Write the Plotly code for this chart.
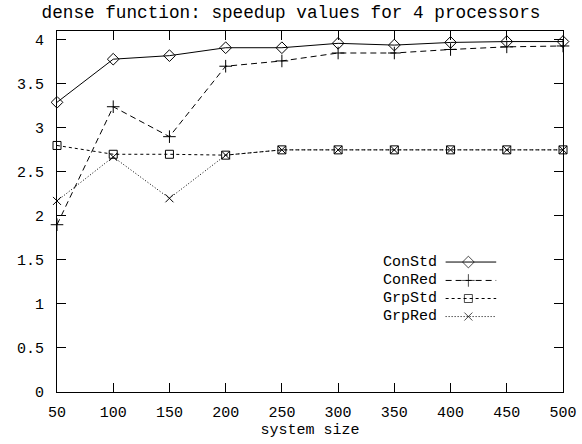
import plotly.graph_objects as go

system_size = [50, 100, 150, 200, 250, 300, 350, 400, 450, 500]
con_std = [3.29, 3.78, 3.82, 3.91, 3.91, 3.96, 3.94, 3.97, 3.98, 3.98]
con_red = [1.90, 3.24, 2.90, 3.70, 3.76, 3.85, 3.85, 3.89, 3.92, 3.93]
grp_std = [2.80, 2.70, 2.70, 2.69, 2.75, 2.75, 2.75, 2.75, 2.75, 2.75]
grp_red = [2.17, 2.67, 2.20, 2.69, 2.75, 2.75, 2.75, 2.75, 2.75, 2.75]
series_names = ["ConStd", "ConRed", "GrpStd", "GrpRed"]
y_ticks = [0, 0.5, 1, 1.5, 2, 2.5, 3, 3.5, 4]
y_tick_text = ["0", "0.5", "1", "1.5", "2", "2.5", "3", "3.5", "4"]

FONT = "Liberation Mono, Courier New, monospace"
styles = [
    dict(dash="solid", symbol="diamond-open", size=9),
    dict(dash="6px,4px", symbol="cross-thin-open", size=9),
    dict(dash="3px,3px", symbol="square-open", size=8),
    dict(dash="1px,2px", symbol="x-thin-open", size=8),
]
series = [con_std, con_red, grp_std, grp_red]

fig = go.Figure()
for name, vals, st in zip(series_names, series, styles):
    fig.add_trace(go.Scatter(
        x=system_size, y=vals, name=name, mode="lines+markers",
        line=dict(color="black", width=1, dash=st["dash"]),
        marker=dict(symbol=st["symbol"], size=st["size"], color="black",
                    line=dict(color="black", width=1)),
        showlegend=False, cliponaxis=False,
    ))

# gnuplot-style key: text on the left, sample on the right
row_y = [0.360, 0.309, 0.259, 0.209]
for name, st, ry in zip(series_names, styles, row_y):
    fig.add_trace(go.Scatter(
        x=[0.768, 0.813, 0.868], y=[ry, ry, ry], xaxis="x2", yaxis="y2",
        mode="lines+markers",
        line=dict(color="black", width=1, dash=st["dash"]),
        marker=dict(symbol=st["symbol"], size=[0, st["size"], 0], color="black",
                    line=dict(color="black", width=1)),
        showlegend=False, hoverinfo="skip",
    ))
    fig.add_annotation(x=0.755, y=ry, xref="paper", yref="paper", text=name,
                       showarrow=False, xanchor="right", yanchor="middle",
                       font=dict(family=FONT, size=15, color="black"))

fig.update_layout(
    width=582, height=444,
    margin=dict(l=57, r=19, t=31, b=52),
    paper_bgcolor="white", plot_bgcolor="white",
    font=dict(family=FONT, size=15, color="black"),
    title=dict(text="dense function: speedup values for 4 processors",
               x=0.5, xanchor="center", y=0.973, yanchor="middle",
               font=dict(family=FONT, size=17.7, color="black")),
    xaxis=dict(range=[50, 500], tickvals=system_size, ticks="inside", ticklen=9,
               tickcolor="black", showline=True, linecolor="black", linewidth=1,
               mirror="ticks", showgrid=False, zeroline=False, automargin=False,
               ticklabelstandoff=6,
               title=dict(text="system size", standoff=2,
                          font=dict(family=FONT, size=15)),
               tickfont=dict(family=FONT, size=15)),
    yaxis=dict(range=[0, 4.1], tickvals=y_ticks, ticktext=y_tick_text,
               ticks="inside", ticklen=9, tickcolor="black",
               showline=True, linecolor="black", linewidth=1, mirror="ticks",
               showgrid=False, zeroline=False, ticklabelstandoff=9,
               automargin=False, tickfont=dict(family=FONT, size=15)),
    xaxis2=dict(range=[0, 1], overlaying="x", visible=False),
    yaxis2=dict(range=[0, 1], overlaying="y", visible=False),
)

fig.write_html("out.html",
               config={"displayModeBar": False},
               post_script="document.body.style.margin='0';"
                           "document.body.style.overflow='hidden';")
